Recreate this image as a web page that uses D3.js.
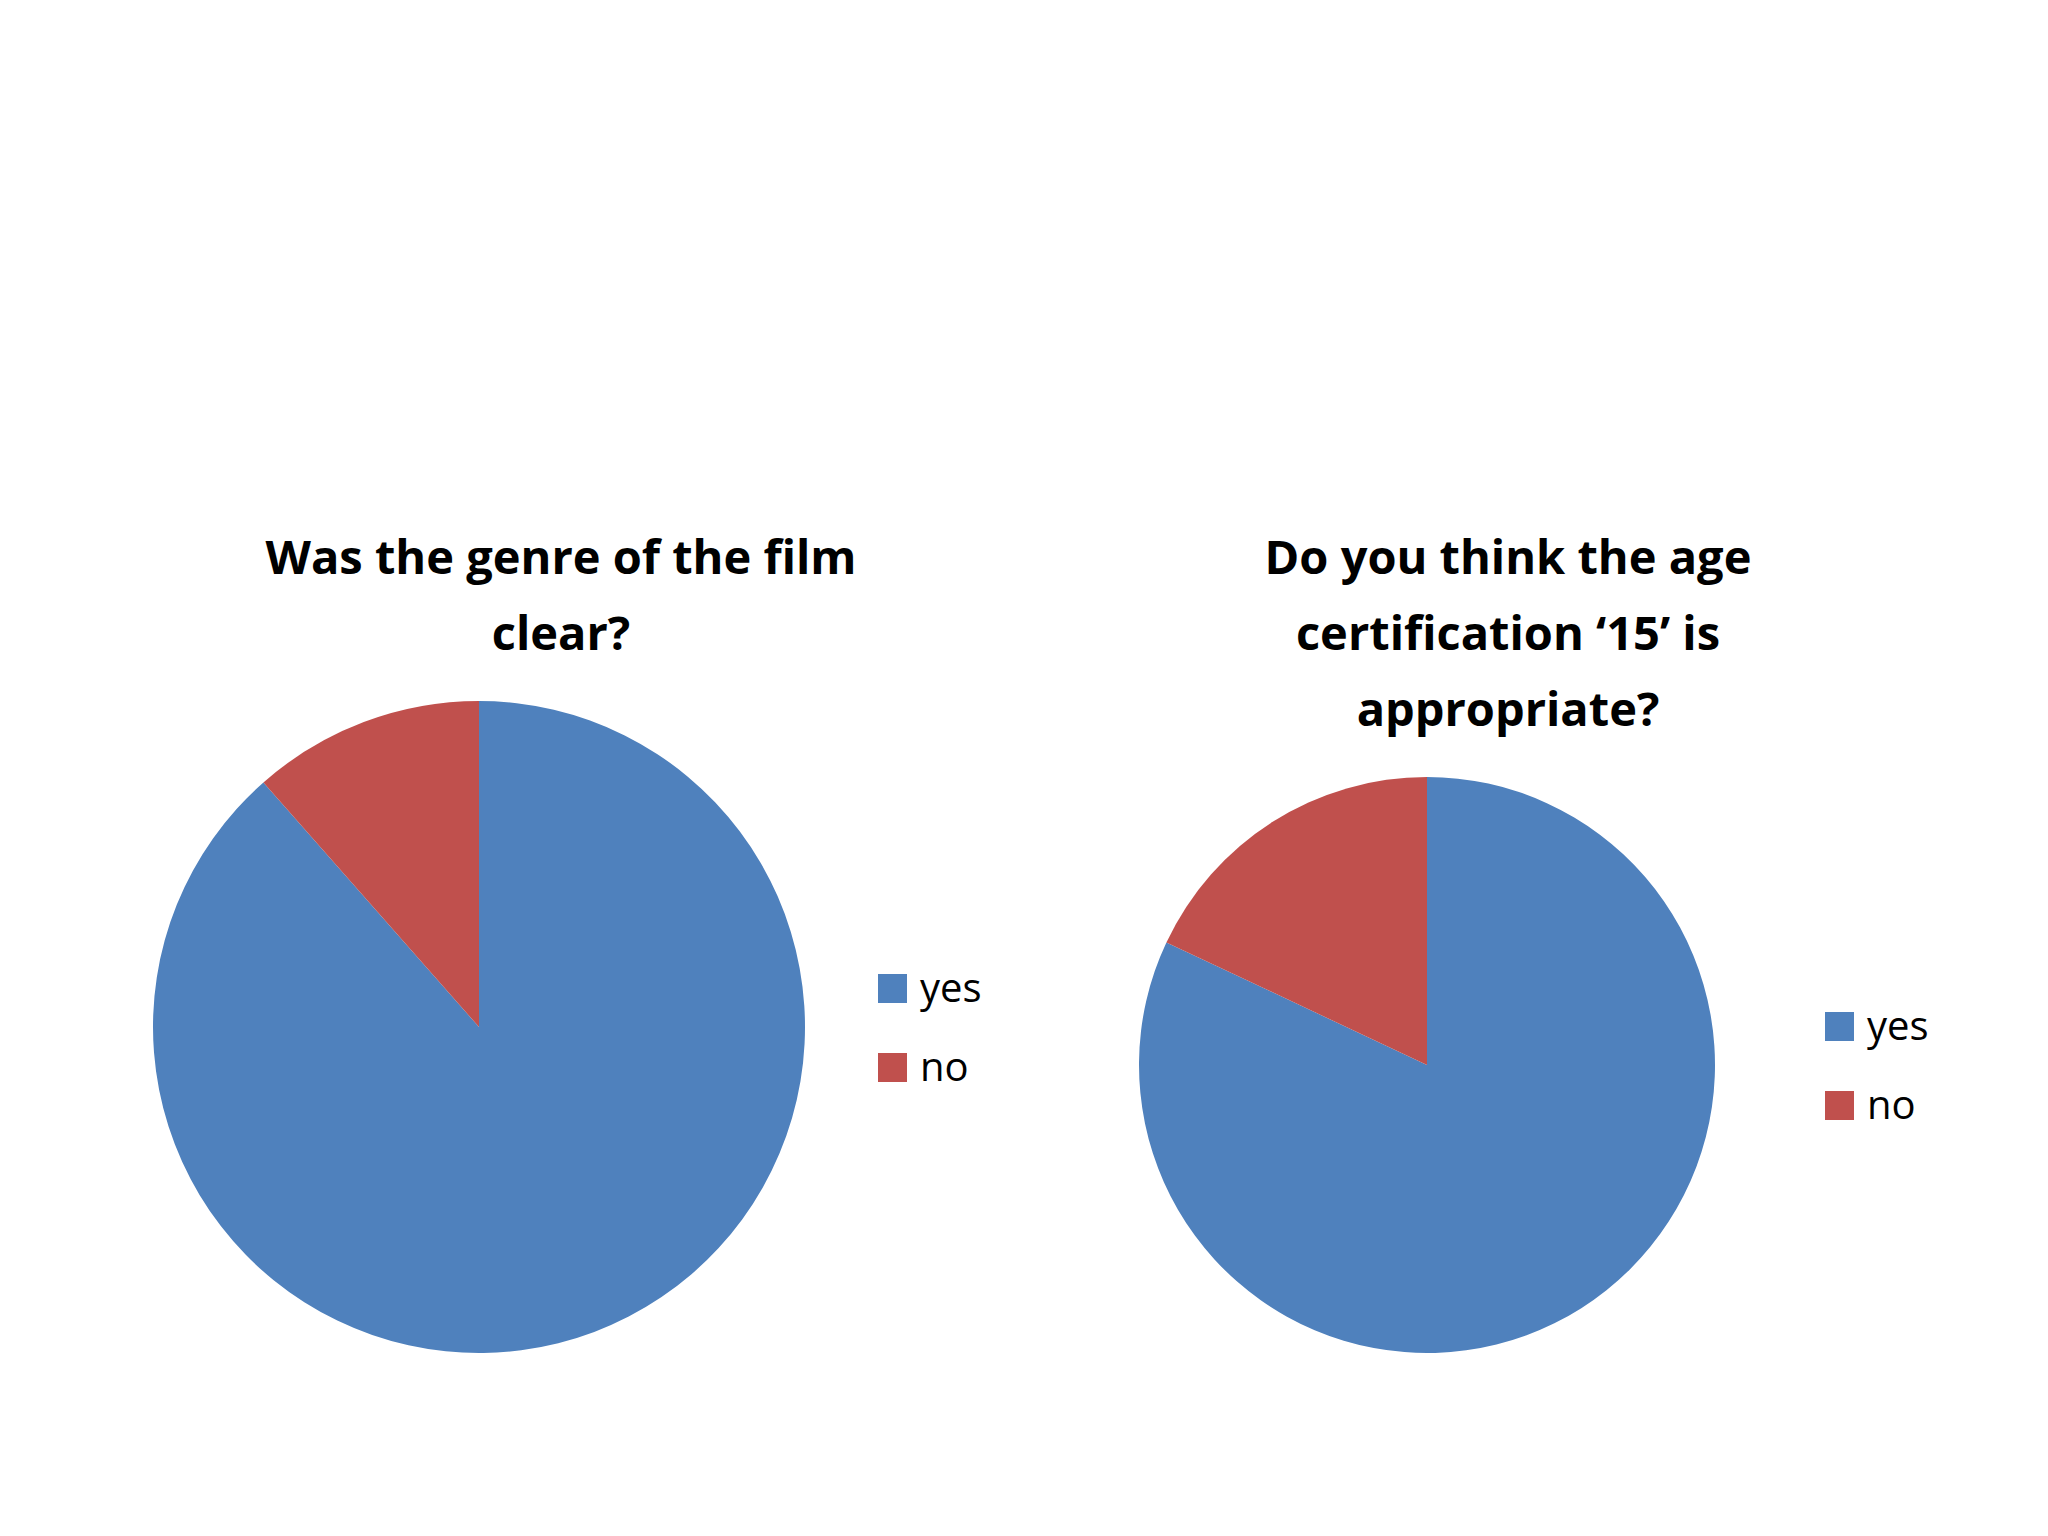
<!DOCTYPE html>
<html>
<head>
<meta charset="utf-8">
<script src="https://cdn.jsdelivr.net/npm/d3@7"></script>
<style>
  body { margin: 0; background: #fff; }
  text { font-family: "Open Sans", "Noto Sans", sans-serif; }
</style>
</head>
<body>
<svg id="chart" width="2048" height="1536"></svg>
<script>
// data
const categories = ["yes", "no"];
const genreValues = [88.5, 11.5];
const certValues = [82, 18];
const genreTitle = ["Was the genre of the film", "clear?"];
const certTitle = ["Do you think the age", "certification \u201815\u2019 is", "appropriate?"];

const colors = d3.scaleOrdinal().domain(categories).range(["#4F81BD", "#C0504D"]);
const svg = d3.select("#chart");

function drawPie(values, title, opts) {
  const g = svg.append("g");

  // title lines
  g.selectAll("text.title")
    .data(title)
    .join("text")
    .attr("class", "title")
    .attr("x", opts.titleX)
    .attr("y", (d, i) => opts.titleY + i * 76)
    .attr("text-anchor", "middle")
    .attr("font-size", 47)
    .attr("font-weight", "bold")
    .text(d => d);

  // pie slices, yes first clockwise from 12 o'clock
  const pie = d3.pie().sort(null).value(d => d.v);
  const arc = d3.arc().innerRadius(0).outerRadius(opts.r);
  const data = categories.map((c, i) => ({ c: c, v: values[i] }));

  g.append("g")
    .attr("transform", `translate(${opts.cx},${opts.cy})`)
    .selectAll("path")
    .data(pie(data))
    .join("path")
    .attr("d", arc)
    .attr("fill", d => colors(d.data.c));

  // legend
  const leg = g.selectAll("g.leg")
    .data(categories)
    .join("g")
    .attr("class", "leg")
    .attr("transform", (d, i) => `translate(${opts.legX},${opts.legY + i * 79})`);
  leg.append("rect").attr("width", 29).attr("height", 29).attr("fill", d => colors(d));
  leg.append("text")
    .attr("x", 42)
    .attr("y", 28)
    .attr("font-size", 40)
    .attr("fill", "#000")
    .text(d => d);
}

drawPie(genreValues, genreTitle, { cx: 479, cy: 1027, r: 326, titleX: 561, titleY: 574, legX: 878, legY: 974 });
drawPie(certValues, certTitle, { cx: 1427, cy: 1065, r: 288, titleX: 1508, titleY: 574, legX: 1825, legY: 1012 });
</script>
</body>
</html>
